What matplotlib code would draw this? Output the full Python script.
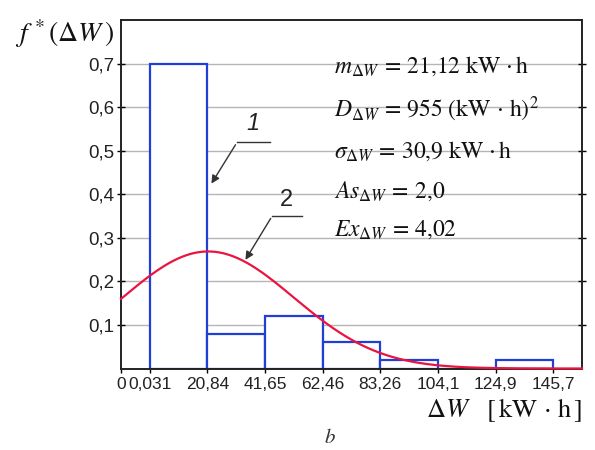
import numpy as np
import matplotlib
matplotlib.use('Agg')
import matplotlib.pyplot as plt

plt.rcParams['mathtext.fontset'] = 'stix'
plt.rcParams['font.family'] = ['Liberation Sans', 'DejaVu Sans']

# histogram of relative frequencies
bin_edges = [0.031, 20.84, 41.65, 62.46, 83.26, 104.1, 124.9, 145.7]
freq = [0.70, 0.08, 0.12, 0.06, 0.02, 0.0, 0.02]
edge_labels = ['0,031', '20,84', '41,65', '62,46', '83,26', '104,1', '124,9', '145,7']
y_ticks = [0.1, 0.2, 0.3, 0.4, 0.5, 0.6, 0.7]
y_labels = ['0,1', '0,2', '0,3', '0,4', '0,5', '0,6', '0,7']

# parameters of the fitted normal law
m_dw = 21.12
sigma_dw = 30.9
h = 20.81

stats = [r'$m_{\Delta W}\,=\,21{,}12\ \mathrm{kW\,\cdot h}$',
         r'$D_{\Delta W}\,=\,955\ \mathrm{(kW\,\cdot\,h)}^2$',
         r'$\sigma_{\Delta W}\,=\,30{,}9\ \mathrm{kW\,\cdot h}$',
         r'$As_{\Delta W}\,=\,2{,}0$',
         r'$Ex_{\Delta W}\,=\,4{,}02$']
stats_y = [0.679, 0.577, 0.483, 0.393, 0.306]

blue = '#1f3fd6'
red = '#ea1440'

fig = plt.figure(figsize=(5.95, 4.5), dpi=100)
ax = fig.add_axes([121/595, 1 - 368.5/450, (582 - 121)/595, (368.5 - 20)/450])

x0 = bin_edges[0] - h / 2
x1 = bin_edges[-1] + h / 2
ax.set_xlim(x0, x1)
ax.set_ylim(0, 0.8)

# bars as outlines
widths = np.diff(bin_edges)
ax.bar(bin_edges[:-1], freq, width=widths, align='edge', facecolor='white',
       edgecolor=blue, linewidth=1.6, zorder=2)

# theoretical curve
xs = np.linspace(x0, x1, 400)
ys = h / (sigma_dw * np.sqrt(2 * np.pi)) * np.exp(-(xs - m_dw) ** 2 / (2 * sigma_dw ** 2))
ax.plot(xs, ys, color=red, linewidth=1.6, zorder=3, clip_on=False)

ax.set_xticks([x0] + bin_edges)
ax.set_xticklabels(['0'] + edge_labels)
ax.set_yticks(y_ticks)
ax.set_yticklabels(y_labels)
ax.tick_params(axis='y', direction='inout', length=6, width=1, right=True,
               labelsize=13.5, labelcolor='#222222', pad=2)
ax.tick_params(axis='x', direction='out', length=3, width=1,
               labelsize=12.5, labelcolor='#222222', pad=3)
ax.grid(axis='y', color='#b5b5b5', linewidth=1)
ax.set_axisbelow(True)
for s in ax.spines.values():
    s.set_linewidth(1.4)
    s.set_color('#222222')

# labels 1 and 2 with leaders
ax.plot([31.5, 43.5], [0.519, 0.519], color='#333333', linewidth=1)
ax.annotate('', xy=(21.75, 0.419), xytext=(31.5, 0.519),
            arrowprops=dict(arrowstyle='-|>', color='#333333', lw=1, mutation_scale=12))
ax.text(37.3, 0.535, '1', fontsize=17, style='italic', ha='center', va='bottom',
        color='#222222')
ax.plot([44.2, 55.0], [0.350, 0.350], color='#333333', linewidth=1)
ax.annotate('', xy=(34.05, 0.244), xytext=(44.2, 0.350),
            arrowprops=dict(arrowstyle='-|>', color='#333333', lw=1, mutation_scale=12))
ax.text(49.5, 0.362, '2', fontsize=17, ha='center', va='bottom', color='#222222')

for s, y in zip(stats, stats_y):
    ax.text(66.6, y, s, fontsize=17, ha='left', va='baseline', color='#111111')

fig.text(15/595, 1 - 42/450, r'$f^{\,*}(\Delta W\,)$', fontsize=20, ha='left',
         va='baseline', color='#111111')
fig.text(582/595, 1 - 417/450, r'$\Delta W\ \ \ \mathrm{[\,kW\,\cdot\,h\,]}$', fontsize=19,
         ha='right', va='baseline', color='#111111')
fig.text(330/595, 1 - 443/450, r'$b$', fontsize=15, ha='center', va='baseline',
         color='#333333')

fig.savefig('out.png', dpi=100)
